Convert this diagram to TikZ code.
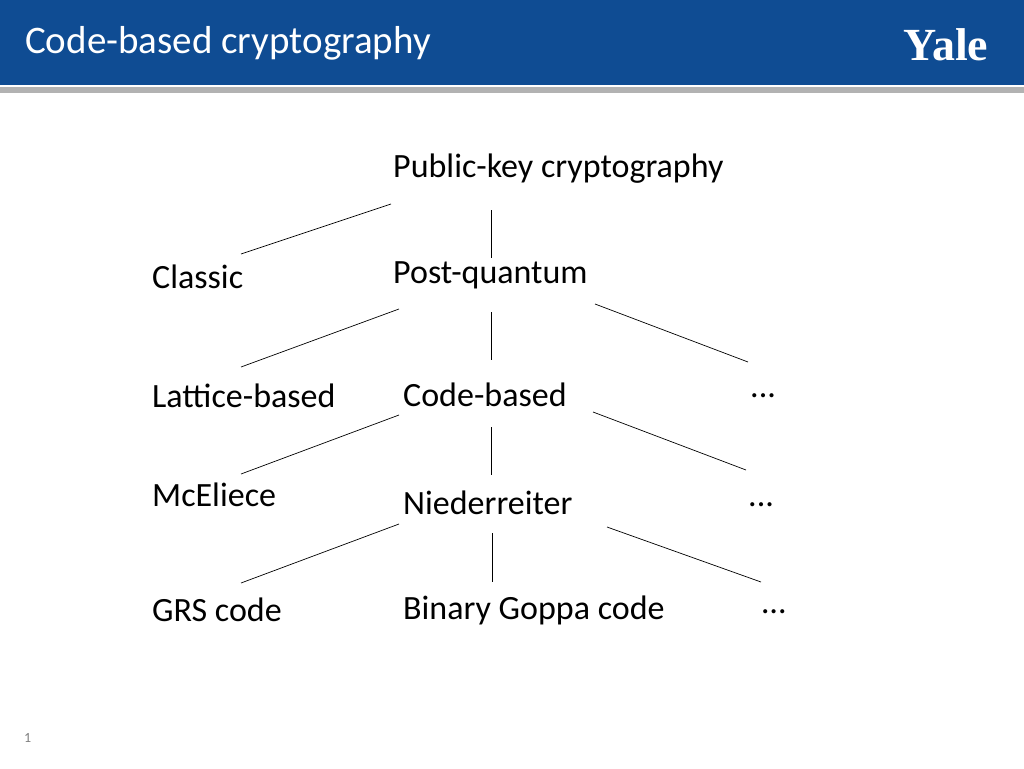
\documentclass[tikz,border=0pt]{standalone}
\usepackage{fontspec}
\setmainfont{Carlito}
\newfontfamily\yalef{Liberation Serif}
\definecolor{hdr}{HTML}{0F4C93}
\begin{document}
\begin{tikzpicture}[x=1pt,y=-1pt,
  lbl/.style={anchor=west,inner sep=0pt,font=\fontsize{34}{40}\selectfont},
  ln/.style={draw=black,line width=0.7pt}]
\useasboundingbox (0,0) rectangle (1024,768);
\fill[white] (0,0) rectangle (1024,768);
\fill[hdr] (0,0) rectangle (1024,85);
\fill[gray!60] (0,87) rectangle (1024,93);
\node[anchor=west,text=white,inner sep=0pt,font=\fontsize{39}{44}\selectfont] (title) at (25,43) {Code-based cryptography};
\node[text=white,inner sep=0pt,font=\yalef\bfseries\fontsize{46}{52}\selectfont] (yale) at (946,45) {Yale};
\node[lbl] (pk) at (393,169) {Public-key cryptography};
\node[lbl] (cl) at (152,277) {Classic};
\node[lbl] (pq) at (393,275) {Post-quantum};
\node[lbl] (lb) at (152,396) {Lattice-based};
\node[lbl] (cb) at (403,395) {Code-based};
\node[lbl] (d1) at (750,396) {...};
\node[lbl] (mc) at (152,495) {McEliece};
\node[lbl] (ni) at (403,503) {Niederreiter};
\node[lbl] (d2) at (748,505) {...};
\node[lbl] (grs) at (152,610) {GRS code};
\node[lbl] (bg) at (403,610) {Binary Goppa code};
\node[lbl] (d3) at (762,612) {…};
\node[anchor=west,inner sep=0pt,text=gray,font=\fontsize{14}{16}\selectfont] (pg) at (24,738) {1};
\draw[ln] (391,204) -- (241,254);
\draw[ln] (491,210) -- (491,258);
\draw[ln] (399,309) -- (241,367);
\draw[ln] (491,312) -- (491,360);
\draw[ln] (595,304) -- (748,362);
\draw[ln] (399,415) -- (241,474);
\draw[ln] (491,427) -- (491,475);
\draw[ln] (593,412) -- (746,470);
\draw[ln] (399,524) -- (241,583);
\draw[ln] (492,533) -- (492,582);
\draw[ln] (607,527) -- (761,582);
\end{tikzpicture}
\end{document}
